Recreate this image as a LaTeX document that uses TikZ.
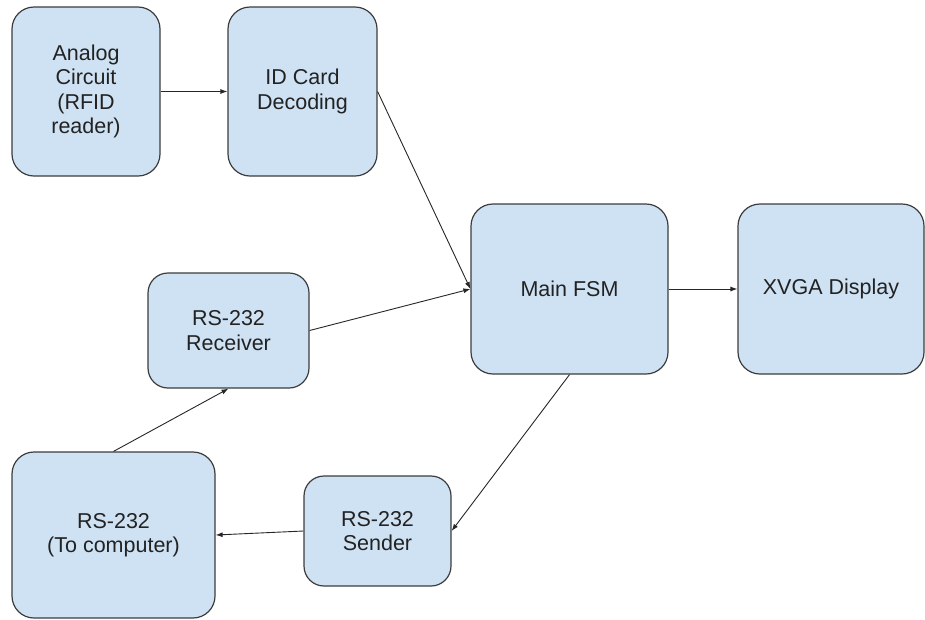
\documentclass[tikz,border=0pt]{standalone}
\usepackage{fontspec}
\setmainfont{Liberation Sans}
\usetikzlibrary{arrows.meta}
\definecolor{boxfill}{HTML}{CFE2F3}
\definecolor{boxline}{HTML}{3C3C3C}
\definecolor{txt}{HTML}{222222}
\begin{document}
\begin{tikzpicture}[x=1pt,y=-1pt,
  blk/.style={draw=boxline, fill=boxfill, line width=1.2pt, rounded corners=22pt,
    align=center, font=\fontsize{21.5}{24.5}\selectfont, text=txt, inner sep=0pt},
  conn/.style={draw=black!85, line width=0.9pt, -{Latex[length=7pt,width=5pt]}}]
\useasboundingbox (0,0) rectangle (925,619);
\node[blk, minimum width=148pt, minimum height=169pt] (analog) at (86,91.5) {Analog\\Circuit\\(RFID\\reader)};
\node[blk, minimum width=149pt, minimum height=169pt] (idcard) at (302.5,91.5) {ID Card\\Decoding};
\node[blk, minimum width=197pt, minimum height=170pt] (fsm) at (569.5,289) {Main FSM};
\node[blk, minimum width=186pt, minimum height=170pt] (xvga) at (831,289) {XVGA Display};
\node[blk, minimum width=161pt, minimum height=115pt, rounded corners=20pt] (recv) at (228.5,330.5) {RS-232\\Receiver};
\node[blk, minimum width=203pt, minimum height=166pt] (comp) at (113.5,535) {RS-232\\(To computer)};
\node[blk, minimum width=147pt, minimum height=110pt, rounded corners=20pt] (send) at (377.5,531) {RS-232\\Sender};
\draw[conn] (analog) -- (idcard);
\draw[conn] (idcard.east) -- (fsm.west);
\draw[conn] (recv.east) -- (fsm.west);
\draw[conn] (fsm) -- (xvga);
\draw[conn] (fsm.south) -- (send.east);
\draw[conn] (send.west) -- (comp.east);
\draw[conn] (comp.north) -- (recv.south);
\end{tikzpicture}
\end{document}
